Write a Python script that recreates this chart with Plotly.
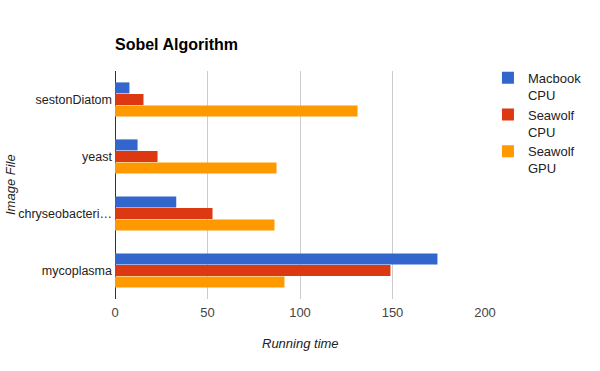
import plotly.graph_objects as go

categories = ["sestonDiatom", "yeast", "chryseobacteri…", "mycoplasma"]
series_names = ["Macbook<br>CPU", "Seawolf<br>CPU", "Seawolf<br>GPU"]
macbook_cpu = [7.8, 12.2, 33.1, 174.3]
seawolf_cpu = [15.4, 23.0, 52.7, 148.9]
seawolf_gpu = [131.1, 87.3, 86.2, 91.6]
colors = ["#3366cc", "#dc3912", "#ff9900"]
x_ticks = [0, 50, 100, 150, 200]

plot_left, plot_w, plot_top, plot_h = 115, 370, 71, 228

fig = go.Figure()
for name, vals, col in zip(series_names, [macbook_cpu, seawolf_cpu, seawolf_gpu], colors):
    fig.add_trace(go.Bar(y=categories, x=vals, name=name, orientation="h",
                         marker=dict(color=col, line=dict(width=0))))

fig.update_layout(
    template="none",
    width=600, height=371,
    margin=dict(l=115, r=115, t=71, b=72, autoexpand=False),
    paper_bgcolor="white", plot_bgcolor="white",
    font=dict(family="Liberation Sans, Arial, sans-serif", size=13, color="#222222"),
    barmode="group", bargap=0.39, bargroupgap=0.05,
    title=dict(text="<b>Sobel Algorithm</b>", x=115/600, xanchor="left", xref="container",
               y=1-44/371, yanchor="middle", yref="container",
               font=dict(size=16, color="#000000")),
    showlegend=True,
    legend=dict(x=1.008, y=1.036, xanchor="left", yanchor="top", valign="top",
                font=dict(size=13, color="#222222"), tracegroupgap=0,
                bgcolor="rgba(0,0,0,0)", borderwidth=0),
    xaxis=dict(range=[0, 200], tickvals=x_ticks, showgrid=True, gridcolor="#cccccc",
               gridwidth=1, zeroline=True, zerolinecolor="#333333", zerolinewidth=1,
               showline=False, ticks="", tickfont=dict(color="#444444", size=13),
               ticklabelstandoff=4, automargin=False, fixedrange=True),
    yaxis=dict(autorange="reversed", showgrid=False, zeroline=False, showline=False,
               ticks="", tickfont=dict(color="#222222", size=12.5), ticklabelstandoff=2,
               automargin=False, fixedrange=True),
    annotations=[
        dict(text="<i>Running time</i>", x=0.5, xref="paper",
             y=(299 - 343) / plot_h, yref="paper", yanchor="middle",
             showarrow=False, font=dict(size=13, color="#222222")),
        dict(text="<i>Image File</i>", x=(10 - plot_left) / plot_w, xref="paper",
             xanchor="center", y=0.5, yref="paper",
             showarrow=False, textangle=-90, font=dict(size=13, color="#222222")),
    ],
)

fig.write_html("out.html", config={"displayModeBar": False},
               post_script="document.body.style.margin='0';")
